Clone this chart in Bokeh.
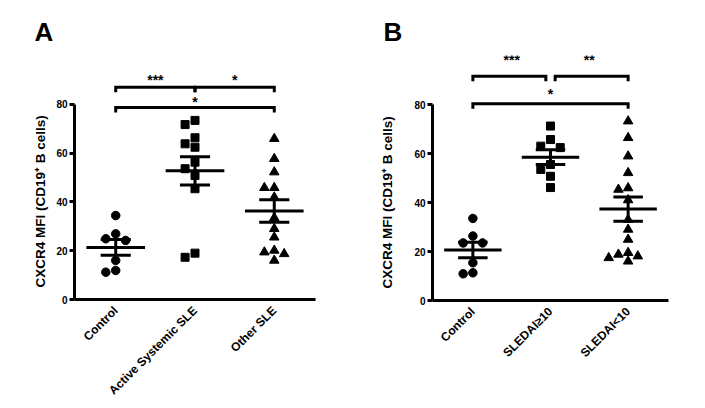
import math
import numpy as np
from bokeh.plotting import figure
from bokeh.models import Range1d, FixedTicker, Title
from bokeh.layouts import row
from bokeh.embed import file_html
from bokeh.resources import INLINE
from bokeh.core.properties import value

FONT = "Liberation Sans"

# ---------------- data ----------------
y_ticks = [0, 20, 40, 60, 80]
y_label = "CXCR4 MFI (CD19\u207a B cells)"

a_categories = ["Control", "Active Systemic SLE", "Other SLE"]
a_control = [34.4, 26.9, 24.9, 24.2, 16.0, 11.2, 11.9]
a_active = [73.4, 71.7, 66.3, 63.8, 62.4, 56.3, 53.6, 50.8, 45.4, 19.0, 17.3]
a_other = [65.9, 57.7, 52.2, 45.8, 45.8, 41.9, 33.5, 29.0, 25.5, 20.1, 19.4, 18.7, 16.0]
a_comparisons = [("Control", "Active Systemic SLE", "***"),
                 ("Active Systemic SLE", "Other SLE", "*"),
                 ("Control", "Other SLE", "*")]

b_categories = ["Control", "SLEDAI\u226510", "SLEDAI<10"]
b_control = [33.5, 26.3, 23.5, 23.5, 15.4, 10.9, 11.3]
b_high = [71.2, 65.7, 63.0, 62.4, 55.5, 53.5, 50.7, 46.1]
b_low = [73.2, 66.4, 58.9, 52.1, 45.9, 45.3, 41.0, 33.0, 29.0, 24.9, 19.5, 18.8, 18.1, 17.4, 16.0]
b_comparisons = [("Control", "SLEDAI\u226510", "***"),
                 ("SLEDAI\u226510", "SLEDAI<10", "**"),
                 ("Control", "SLEDAI<10", "*")]

MARKERS = ["circle", "square", "triangle"]
SIZES = [8.5, 8, 9.5]


def swarm(vals, xpx, ypx, diam=8.5, step=0.125):
    placed = []
    offs = [0.0] * len(vals)
    order = sorted(range(len(vals)), key=lambda i: -vals[i])
    cands = [0] + [s * j for j in range(1, 5) for s in (-1, 1)]
    for i in order:
        chosen = cands[-1]
        for c in cands:
            if all(math.hypot((c - oc) * step * xpx, (vals[i] - vp) * ypx) >= diam
                   for oc, vp in placed):
                chosen = c
                break
        placed.append((chosen, vals[i]))
        offs[i] = chosen * step
    return offs


def make_panel(letter, categories, groups, comparisons, *, fw, fh,
               bl, br, bt, bb, xpad, bracket_y, bracket_gap, label_gaps_px,
               ylabel_standoff, ylabel_offset, letter_offset):
    x0, x1 = -xpad, len(categories) - 1 + xpad
    p = figure(frame_width=fw, frame_height=fh, output_backend="svg", toolbar_location=None,
               x_range=Range1d(x0, x1), y_range=Range1d(0, 100),
               min_border_left=bl, min_border_right=br, min_border_top=bt,
               min_border_bottom=bb)
    p.outline_line_color = None
    p.grid.visible = False
    p.background_fill_color = "white"
    p.border_fill_color = "white"

    xpx = fw / (x1 - x0)
    ypx = fh / 100.0

    # panel letter
    p.title.text = letter
    p.title.align = "left"
    p.title.offset = letter_offset
    p.title.standoff = 18
    p.title.text_font = FONT
    p.title.text_font_style = "bold"
    p.title.text_font_size = "26px"
    p.title.text_color = "black"

    # axes
    p.xaxis.ticker = FixedTicker(ticks=list(range(len(categories))))
    p.xaxis.major_label_overrides = {i: c for i, c in enumerate(categories)}
    p.xaxis.major_label_orientation = math.pi / 4
    p.xaxis.major_tick_line_color = None
    p.xaxis.minor_tick_line_color = None
    p.xaxis.axis_line_width = 3
    p.xaxis.major_label_text_font = FONT
    p.xaxis.major_label_text_font_style = "bold"
    p.xaxis.major_label_text_font_size = "12px"
    p.xaxis.major_label_text_color = "black"
    p.xaxis.major_label_standoff = 3

    p.yaxis.ticker = FixedTicker(ticks=y_ticks)
    p.yaxis.bounds = (0, 80)
    p.yaxis.axis_line_width = 3
    p.yaxis.major_tick_line_width = 3
    p.yaxis.major_tick_out = 5
    p.yaxis.major_tick_in = 0
    p.yaxis.minor_tick_line_color = None
    p.yaxis.major_label_text_font = FONT
    p.yaxis.major_label_text_font_style = "bold"
    p.yaxis.major_label_text_font_size = "10px"
    p.yaxis.major_label_text_color = "black"
    p.yaxis.major_label_standoff = 2

    # y axis title
    p.add_layout(Title(text=y_label, align="left", offset=ylabel_offset,
                       standoff=ylabel_standoff, text_font=FONT, text_font_style="bold",
                       text_font_size="13.5px", text_color="black"), "left")

    # points + mean/SEM
    for i, vals in enumerate(groups):
        offs = swarm(vals, xpx, ypx)
        xs = [i + o for o in offs]
        p.scatter(xs, vals, marker=MARKERS[i], size=SIZES[i], color="black")
        m = float(np.mean(vals))
        sem = float(np.std(vals, ddof=1) / math.sqrt(len(vals)))
        p.segment(x0=[i - 0.37], y0=[m], x1=[i + 0.37], y1=[m], line_width=3, color="black")
        p.segment(x0=[i - 0.19, i - 0.19], y0=[m - sem, m + sem],
                  x1=[i + 0.19, i + 0.19], y1=[m - sem, m + sem], line_width=3, color="black")
        p.segment(x0=[i], y0=[m - sem], x1=[i], y1=[m + sem], line_width=3, color="black")

    # significance brackets
    tick = 5 / ypx
    last = len(categories) - 1
    for (c1, c2, txt), yb, gap in zip(comparisons, bracket_y, label_gaps_px):
        i1, i2 = categories.index(c1), categories.index(c2)
        xa = i1 + (bracket_gap if i1 != 0 else 0)
        xb = i2 - (bracket_gap if i2 != last else 0)
        p.line([xa, xa, xb, xb], [yb - tick, yb, yb, yb - tick], line_width=3,
               color="black", line_join="miter")
        p.text(x=[(i1 + i2) / 2], y=[yb + gap / ypx], text=[txt],
               text_font=value(FONT), text_font_style="bold", text_font_size="14px",
               text_align="center", text_baseline="alphabetic", text_color="black")
    return p


pa = make_panel("A", a_categories, [a_control, a_active, a_other], a_comparisons,
                fw=241, fh=244, bl=74, br=43, bt=55, bb=90, xpad=0.52,
                bracket_y=[87, 87, 78.7], bracket_gap=0.0, label_gaps_px=[7, 7, 5],
                ylabel_standoff=12, ylabel_offset=12, letter_offset=-40)
pb = make_panel("B", b_categories, [b_control, b_high, b_low], b_comparisons,
                fw=236, fh=245, bl=74, br=29, bt=51, bb=90, xpad=0.52,
                bracket_y=[91.5, 91.5, 80.3], bracket_gap=0.06, label_gaps_px=[16, 16, 10],
                ylabel_standoff=33, ylabel_offset=12, letter_offset=-49)

layout = row(pa, pb)
open("out.html", "w").write(file_html(layout, INLINE))
